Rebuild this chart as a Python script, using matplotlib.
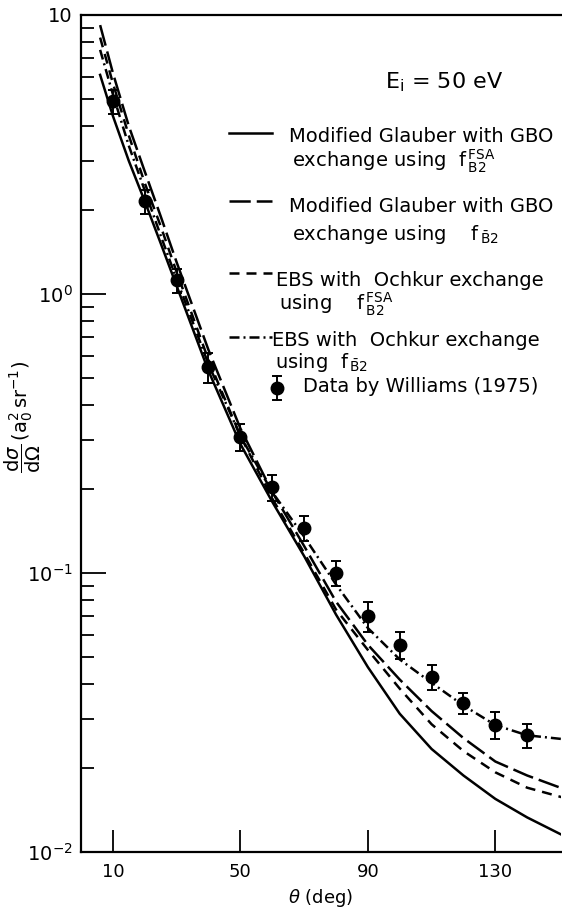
import numpy as np
import matplotlib
matplotlib.use('Agg')
import matplotlib.pyplot as plt
from matplotlib.lines import Line2D

plt.rcParams['font.family'] = ['DejaVu Sans']
plt.rcParams['mathtext.fontset'] = 'dejavusans'

theta_curve = [6, 10, 15, 20, 25, 30, 40, 50, 60, 70, 80, 90, 100, 110, 120, 130, 140, 151]

# Modified Glauber + GBO exchange, f_B2^FSA (solid)
glauber_fsa = [6.1, 4.35, 3.0, 2.15, 1.52, 1.07, 0.53, 0.29, 0.18, 0.115, 0.071, 0.046,
               0.0313, 0.0234, 0.0188, 0.0155, 0.0133, 0.0115]
# Modified Glauber + GBO exchange, f_B2bar (long dash)
glauber_bar = [9.2, 6.2, 4.0, 2.75, 1.9, 1.3, 0.63, 0.33, 0.195, 0.125, 0.079, 0.0553,
               0.0415, 0.032, 0.0256, 0.0211, 0.0188, 0.0169]
# EBS + Ochkur exchange, f_B2^FSA (short dash)
ebs_fsa = [8.3, 5.7, 3.7, 2.5, 1.75, 1.2, 0.58, 0.31, 0.185, 0.118, 0.074, 0.053,
           0.0385, 0.0287, 0.023, 0.0193, 0.017, 0.0157]
# EBS + Ochkur exchange, f_B2bar (dash-dot)
ebs_bar = [7.5, 5.2, 3.4, 2.35, 1.62, 1.13, 0.56, 0.31, 0.195, 0.135, 0.091, 0.0635,
           0.049, 0.0404, 0.0335, 0.0285, 0.0262, 0.0254]

# Williams (1975) data
theta_data = [10, 20, 30, 40, 50, 60, 70, 80, 90, 100, 110, 120, 130, 140]
dcs_data = [4.9, 2.15, 1.12, 0.547, 0.307, 0.203, 0.145, 0.100, 0.070, 0.0552,
            0.0424, 0.0342, 0.0285, 0.0262]
rel_err = [0.10, 0.10, 0.10, 0.12, 0.11, 0.11, 0.10, 0.10, 0.12, 0.11, 0.10, 0.09, 0.11, 0.10]

legend_lines = ['Modified Glauber with GBO', 'Modified Glauber with GBO',
                'EBS with  Ochkur exchange', 'EBS with  Ochkur exchange']
legend_second = [r'exchange using  $\mathrm{f}^{\,\mathrm{FSA}}_{\,\mathrm{B2}}$',
                 r'exchange using    $\mathrm{f}_{\,\bar{\mathrm{B}}\mathrm{2}}$',
                 r'using    $\mathrm{f}^{\,\mathrm{FSA}}_{\,\mathrm{B2}}$',
                 r'using  $\mathrm{f}_{\,\bar{\mathrm{B}}\mathrm{2}}$']

W, H = 562, 911
fig = plt.figure(figsize=(W / 100, H / 100), dpi=100)
ax = fig.add_axes([81 / W, 1 - 852 / H, (561 - 81) / W, (852 - 15) / H])

lw = 1.8
ax.plot(theta_curve, glauber_fsa, color='black', lw=lw)
ax.plot(theta_curve, glauber_bar, color='black', lw=lw, dashes=(8.5, 2.4))
ax.plot(theta_curve, ebs_fsa, color='black', lw=lw, dashes=(4.0, 2.8))
ax.plot(theta_curve, ebs_bar, color='black', lw=lw, dashes=(4.0, 1.6, 0.8, 1.6))

err = np.array(dcs_data) * np.array(rel_err)
ax.errorbar(theta_data, dcs_data, yerr=err, fmt='o', color='black', ms=9,
            capsize=3.5, elinewidth=1.4, capthick=1.4)

ax.set_yscale('log')
ax.set_ylim(0.01, 10)
ax.set_xlim(0, 150.6)
ax.set_xticks([10, 50, 90, 130])
ax.set_xticklabels(['10', '50', '90', '130'], fontsize=13)
ax.set_yticks([0.01, 0.1, 1, 10])
ax.set_yticklabels([r'$10^{-2}$', r'$10^{-1}$', r'$10^{0}$', '10'], fontsize=14)
ax.tick_params(axis='x', which='major', direction='in', length=16, width=1.3, pad=8)
ax.tick_params(axis='x', which='minor', bottom=False)
ax.tick_params(axis='y', which='major', direction='in', length=18, width=1.3, pad=6)
ax.tick_params(axis='y', which='minor', direction='in', length=9, width=1.3)
ax.spines['right'].set_visible(False)
for s in ['left', 'top', 'bottom']:
    ax.spines[s].set_linewidth(1.6)

ax.set_xlabel(r'$\theta$ (deg)', fontsize=13, labelpad=4)
ax.set_ylabel(r'$\dfrac{\mathrm{d}\sigma}{\mathrm{d}\Omega}\,(\mathrm{a}_0^2\,\mathrm{sr}^{-1})$',
              fontsize=14)
ax.yaxis.set_label_coords(-0.08, 0.52)


def fx(x):
    return x / W


def fy(y):
    return 1 - y / H


fig.text(fx(385), fy(82), r'E$_{\mathrm{i}}$ = 50 eV', fontsize=16, va='center')

# hand placed key
key_y = [133, 201, 273, 337]
text_y1 = [137, 206, 280, 340]
text_y2 = [161, 234, 304, 362]
key_text_x = [289, 289, 276, 272]
key_dash = [None, (8.5, 2.4), (4.0, 2.8), (4.0, 1.6, 0.8, 1.6)]
for i in range(4):
    ln = Line2D([fx(229), fx(272)], [fy(key_y[i]), fy(key_y[i])], color='black', lw=lw,
                transform=fig.transFigure)
    if key_dash[i] is not None:
        ln.set_dashes(key_dash[i])
    fig.add_artist(ln)
    fig.text(fx(key_text_x[i]), fy(text_y1[i]), legend_lines[i], fontsize=14, va='center')
    fig.text(fx(key_text_x[i] + 3), fy(text_y2[i]), legend_second[i], fontsize=14,
             va='center')

fig.add_artist(Line2D([fx(277)], [fy(388)], marker='o', ms=9, color='black',
                      transform=fig.transFigure))
fig.add_artist(Line2D([fx(277), fx(277)], [fy(376), fy(400)], color='black', lw=1.4,
                      transform=fig.transFigure))
for yy in [376, 400]:
    fig.add_artist(Line2D([fx(273), fx(281)], [fy(yy), fy(yy)], color='black', lw=1.4,
                          transform=fig.transFigure))
fig.text(fx(303), fy(387), 'Data by Williams (1975)', fontsize=14, va='center')

fig.savefig('out.png', dpi=100)
